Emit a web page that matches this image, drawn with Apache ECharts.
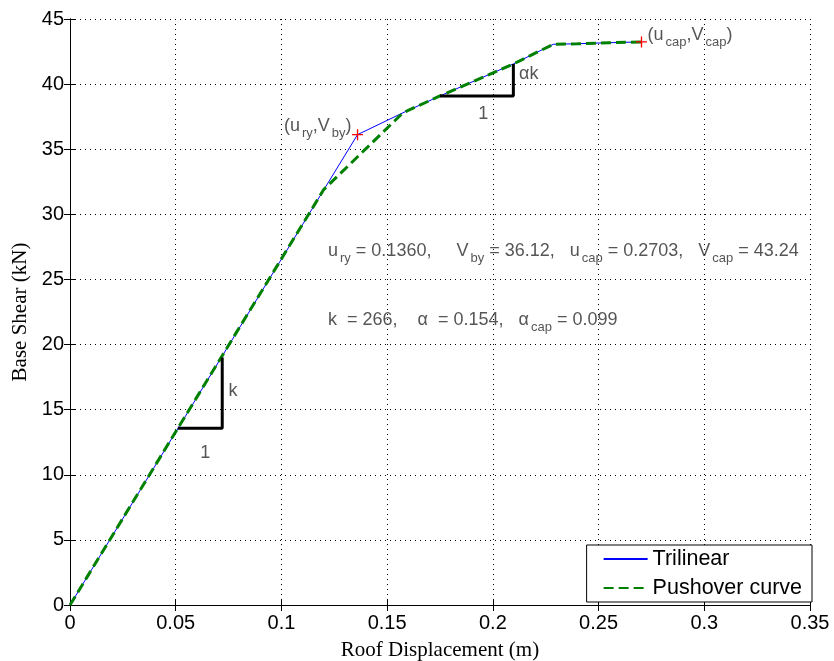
<!DOCTYPE html>
<html>
<head>
<meta charset="utf-8">
<script src="https://cdn.jsdelivr.net/npm/echarts@6/dist/echarts.min.js"></script>
<style>
html,body{margin:0;padding:0;background:#fff;}
#c{width:834px;height:661px;}
</style>
</head>
<body>
<div id="c"></div>
<script>
// ---- data ----
const xTicks = [0, 0.05, 0.1, 0.15, 0.2, 0.25, 0.3, 0.35];
const yTicks = [0, 5, 10, 15, 20, 25, 30, 35, 40, 45];
const trilinearU = [0, 0.136, 0.1575, 0.175, 0.2097, 0.2286, 0.24, 0.255, 0.2703];
const trilinearV = [0, 36.12, 37.8, 39.09, 41.55, 43.06, 43.1, 43.18, 43.24];
const pushoverU = [0, 0.051, 0.12, 0.1575, 0.175, 0.2097, 0.2286, 0.24, 0.255, 0.2703];
const pushoverV = [0, 13.57, 31.9, 37.8, 39.09, 41.55, 43.06, 43.1, 43.18, 43.24];
const markerU = [0.136, 0.2703];
const markerV = [36.12, 43.24];
const tri1U = [0.051, 0.072, 0.072];
const tri1V = [13.57, 13.57, 19.0];
const tri2U = [0.175, 0.2097, 0.2097];
const tri2V = [39.09, 39.09, 41.55];

const zip = (a, b) => a.map((v, i) => [v, b[i]]);

const FONT = '"Liberation Sans", Arial, sans-serif';
const SERIF = '"Liberation Serif", "Times New Roman", serif';

const rich = {
  t: {fontSize: 18, fontFamily: FONT, color: '#2a2a2a'},
  s: {fontSize: 13, fontFamily: FONT, color: '#2a2a2a', padding: [15, 0, 0, 2]}
};

// annotation texts anchored at data coordinates
const annotations = [
  {coord: [0.136, 36.12], text: '{t|(u}{s|ry}{t|,V}{s|by}{t|)}', pos: 'left', off: [-1, -9]},
  {coord: [0.2703, 43.24], text: '{t|(u}{s|cap}{t|,V}{s|cap}{t|)}', pos: 'right', off: [1, -7]},
  {coord: [0.1225, 27.2], text: '{t|u}{s|ry}{t| = 0.1360,     V}{s|by}{t| = 36.12,   u}{s|cap}{t| = 0.2703,   V}{s|cap}{t| = 43.24}', pos: 'right', off: [-6, 0]},
  {coord: [0.1225, 21.9], text: '{t|k  = 266,    α  = 0.154,   α}{s|cap}{t| = 0.099}', pos: 'right', off: [-6, 0]},
  {coord: [0.0735, 16.4], text: '{t|k}', pos: 'right', off: [-2, 0]},
  {coord: [0.064, 11.7], text: '{t|1}', pos: 'inside', off: [0, 0]},
  {coord: [0.211, 40.75], text: '{t|αk}', pos: 'right', off: [-2, 0]},
  {coord: [0.1955, 37.7], text: '{t|1}', pos: 'inside', off: [0, 0]}
];

const chart = echarts.init(document.getElementById('c'), null, {renderer: 'canvas'});

const axisCommon = {
  type: 'value',
  axisLine: {show: true, lineStyle: {color: '#000', width: 1}},
  axisTick: {show: true, inside: true, length: 6, lineStyle: {color: '#000'}},
};

chart.setOption({
  animation: false,
  backgroundColor: '#fff',
  grid: {left: 70, right: 24, top: 19, bottom: 56, containLabel: false, outerBoundsMode: 'none'},
  xAxis: [
    Object.assign({}, axisCommon, {
      min: 0, max: 0.35, interval: 0.05, position: 'bottom',
      name: 'Roof Displacement (m)', nameLocation: 'middle', nameGap: 35,
      nameTextStyle: {fontFamily: SERIF, fontSize: 21, color: '#000'},
      axisLabel: {fontFamily: FONT, fontSize: 20, color: '#000', margin: 8,
        formatter: v => String(+v.toFixed(2))},
      splitLine: {show: true, lineStyle: {color: '#000', type: [1, 4], width: 1}}
    }),
    Object.assign({}, axisCommon, {
      min: 0, max: 0.35, interval: 0.05, position: 'top',
      axisLabel: {show: false}, splitLine: {show: false}
    })
  ],
  yAxis: [
    Object.assign({}, axisCommon, {
      min: 0, max: 45, interval: 5, position: 'left',
      name: 'Base Shear (kN)', nameLocation: 'middle', nameGap: 38,
      nameTextStyle: {fontFamily: SERIF, fontSize: 21, color: '#000'},
      axisLabel: {fontFamily: FONT, fontSize: 20, color: '#000', margin: 6},
      splitLine: {show: true, lineStyle: {color: '#000', type: [1, 4], width: 1}}
    }),
    Object.assign({}, axisCommon, {
      min: 0, max: 45, interval: 5, position: 'right',
      axisLabel: {show: false}, splitLine: {show: false}
    })
  ],
  legend: {
    data: ['Trilinear', 'Pushover curve'],
    orient: 'vertical',
    right: 22, bottom: 59,
    itemWidth: 44, itemHeight: 14, itemGap: 7,
    padding: [3, 10, 3, 16],
    borderColor: '#000', borderWidth: 1, borderRadius: 0,
    backgroundColor: '#fff',
    itemStyle: {opacity: 0},
    textStyle: {fontFamily: FONT, fontSize: 21.5, color: '#000'}
  },
  series: [
    {
      name: 'Trilinear', type: 'line', data: zip(trilinearU, trilinearV),
      showSymbol: false, symbol: 'none', z: 3,
      lineStyle: {color: '#0000ff', width: 1}, itemStyle: {color: '#0000ff'}
    },
    {
      name: 'Pushover curve', type: 'line', data: zip(pushoverU, pushoverV),
      showSymbol: false, symbol: 'none', z: 4,
      lineStyle: {color: '#008000', width: 3, type: [10, 5]}, itemStyle: {color: '#008000'}
    },
    {
      name: 'tri1', type: 'line', data: zip(tri1U, tri1V), symbol: 'none', z: 5,
      lineStyle: {color: '#000', width: 3}
    },
    {
      name: 'tri2', type: 'line', data: zip(tri2U, tri2V), symbol: 'none', z: 5,
      lineStyle: {color: '#000', width: 3}
    },
    {
      name: 'markers', type: 'scatter', data: zip(markerU, markerV), z: 6,
      symbol: 'path://M4.4,0H5.6V4.4H10V5.6H5.6V10H4.4V5.6H0V4.4H4.4Z', symbolSize: 11,
      itemStyle: {color: '#ff0000', opacity: 1}
    },
    {
      name: 'annotations', type: 'scatter', symbolSize: 0, z: 7, silent: true,
      data: annotations.map(a => ({
        value: a.coord,
        label: {show: true, position: a.pos, offset: a.off, formatter: a.text, rich: rich}
      }))
    }
  ]
});
</script>
</body>
</html>
